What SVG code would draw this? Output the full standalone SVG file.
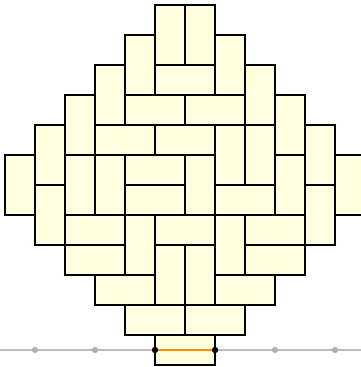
<svg xmlns="http://www.w3.org/2000/svg" width="361" height="367" viewBox="0 0 361 367">
<style>
.d{fill:#ffffe0;stroke:#000;stroke-width:2}
.g{fill:#b0b0b0}
.k{fill:#000}
</style>
<defs>
<rect id="v" width="30" height="60" class="d"/>
<rect id="h" width="60" height="30" class="d"/>
</defs>
<g id="dominoes">
<use href="#v" x="155" y="5"/><use href="#v" x="185" y="5"/>
<use href="#v" x="125" y="35"/><use href="#v" x="215" y="35"/>
<use href="#h" x="155" y="65"/><use href="#v" x="95" y="65"/><use href="#v" x="245" y="65"/>
<use href="#v" x="65" y="95"/><use href="#h" x="125" y="95"/><use href="#h" x="185" y="95"/><use href="#v" x="275" y="95"/>
<use href="#v" x="35" y="125"/><use href="#h" x="95" y="125"/><use href="#h" x="155" y="125"/><use href="#v" x="215" y="125"/><use href="#v" x="245" y="125"/><use href="#v" x="305" y="125"/>
<use href="#v" x="5" y="155"/><use href="#v" x="65" y="155"/><use href="#v" x="95" y="155"/><use href="#h" x="125" y="155"/><use href="#v" x="185" y="155"/><use href="#v" x="275" y="155"/><use href="#v" x="335" y="155"/>
<use href="#v" x="35" y="185"/><use href="#h" x="125" y="185"/><use href="#h" x="215" y="185"/><use href="#v" x="305" y="185"/>
<use href="#h" x="65" y="215"/><use href="#v" x="125" y="215"/><use href="#h" x="155" y="215"/><use href="#v" x="215" y="215"/><use href="#h" x="245" y="215"/>
<use href="#h" x="65" y="245"/><use href="#v" x="155" y="245"/><use href="#v" x="185" y="245"/><use href="#h" x="245" y="245"/>
<use href="#h" x="95" y="275"/><use href="#h" x="215" y="275"/>
<use href="#h" x="125" y="305"/><use href="#h" x="185" y="305"/>
<use href="#h" x="155" y="335"/>
</g>
<g id="connectors">
<line x1="0" y1="350" x2="155" y2="350" stroke="#bbbbbb" stroke-width="2"/>
<line x1="215" y1="350" x2="361" y2="350" stroke="#bbbbbb" stroke-width="2"/>
<line x1="155" y1="350" x2="215" y2="350" stroke="#ff8c00" stroke-width="2"/>
<circle class="g" cx="35" cy="350" r="3"/>
<circle class="g" cx="95" cy="350" r="3"/>
<circle class="g" cx="275" cy="350" r="3"/>
<circle class="g" cx="335" cy="350" r="3"/>
<circle class="k" cx="155" cy="350" r="3"/>
<circle class="k" cx="215" cy="350" r="3"/>
</g>
</svg>
